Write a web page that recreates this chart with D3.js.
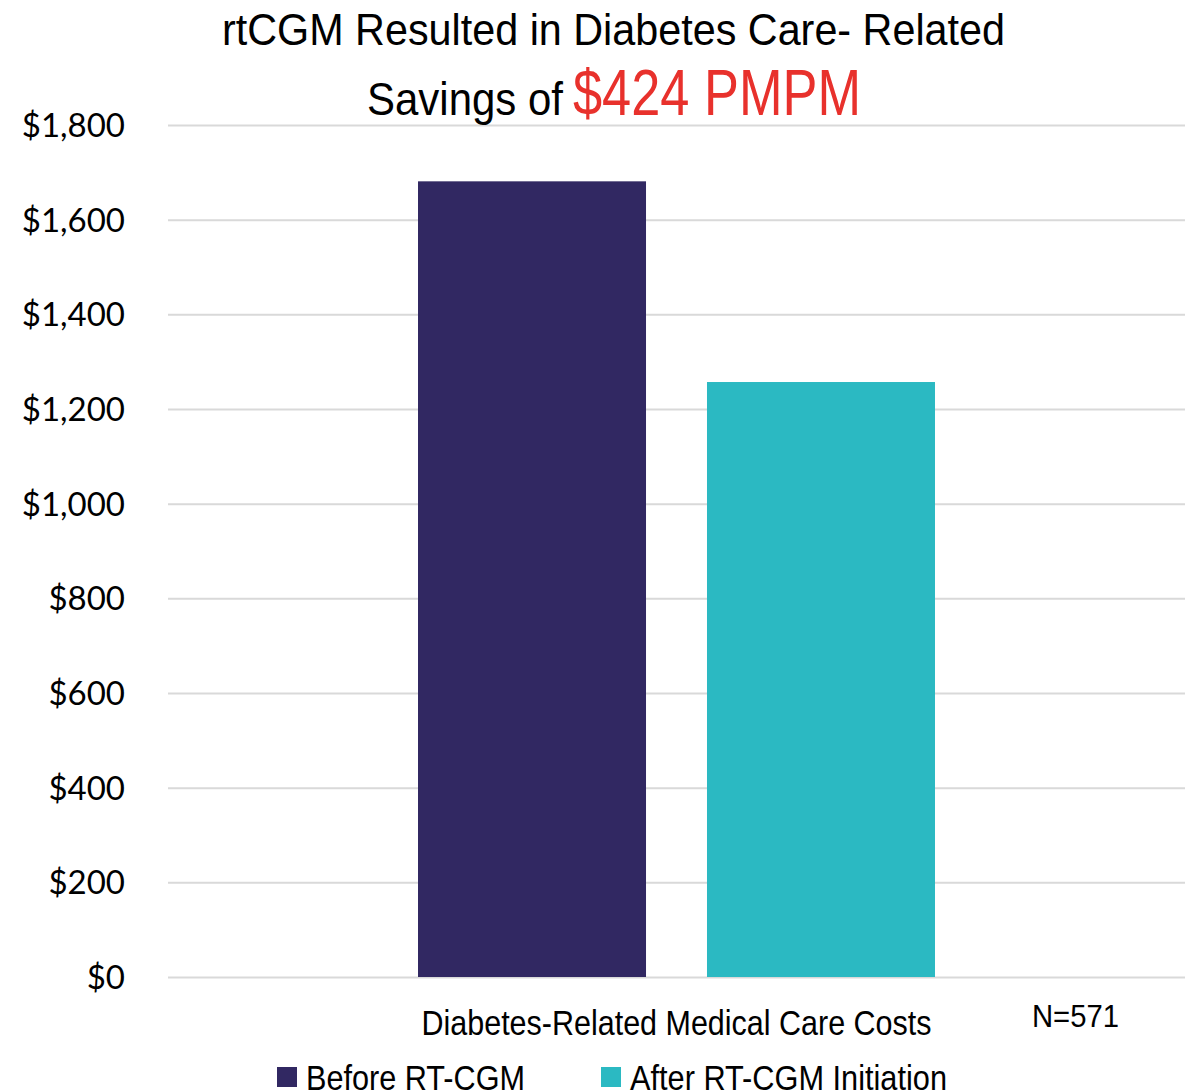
<!DOCTYPE html>
<html>
<head>
<meta charset="utf-8">
<script src="https://cdn.jsdelivr.net/npm/d3@7"></script>
<style>
  html, body { margin: 0; padding: 0; background: #fff; }
  svg { display: block; }
  .narrow { font-family: "Liberation Sans", Arial, sans-serif; }
  .tick text { font-family: Lato, "Open Sans", sans-serif; }
</style>
</head>
<body>
<svg id="chart" width="1196" height="1090"></svg>
<script>
// Diabetes-related medical care costs, per member per month
const categories = ["Diabetes-Related Medical Care Costs"];
const seriesNames = ["Before RT-CGM", "After RT-CGM Initiation"];
const seriesColors = ["#312862", "#2bb9c2"];
const costValues = [1681, 1257];
const yTicks = [0, 200, 400, 600, 800, 1000, 1200, 1400, 1600, 1800];
const titleLine1 = "rtCGM Resulted in Diabetes Care- Related";
const titleLine2 = "Savings of";
const titleHighlight = "$424 PMPM";
const sampleNote = "N=571";

const svg = d3.select("#chart");
const plot = { left: 168, right: 1185, top: 125, bottom: 977 };

const y = d3.scaleLinear().domain([0, 1800]).range([plot.bottom, plot.top]);
const x0 = d3.scaleBand().domain(categories).range([plot.left, plot.right])
  .paddingInner(0).paddingOuter(0.4836);
const x1 = d3.scaleBand().domain(seriesNames).range([0, x0.bandwidth()])
  .paddingInner(0.211).paddingOuter(0);

// condensed-looking text: regular sans squeezed to a fixed run length
function narrowText(parent, str, x, yPos, size, length, anchor, color) {
  return parent.append("text").attr("class", "narrow")
    .attr("x", x).attr("y", yPos)
    .attr("text-anchor", anchor || "start")
    .attr("font-size", size)
    .attr("fill", color || "#000")
    .attr("textLength", length)
    .attr("lengthAdjust", "spacingAndGlyphs")
    .text(str);
}

// gridlines + tick labels
const yAxis = d3.axisLeft(y).tickValues(yTicks)
  .tickSize(-(plot.right - plot.left)).tickPadding(43)
  .tickFormat(d => "$" + d3.format(",")(d));
const ga = svg.append("g").attr("transform", `translate(${plot.left},0)`).call(yAxis);
ga.select(".domain").remove();
ga.selectAll(".tick line").attr("stroke", "#d9d9d9").attr("stroke-width", 2);
ga.selectAll(".tick text").attr("fill", "#000").attr("font-size", 33).attr("dy", "0.35em");

// bars
const g = svg.append("g");
categories.forEach(cat => {
  g.selectAll("rect.bar").data(seriesNames).enter().append("rect")
    .attr("class", "bar")
    .attr("x", s => x0(cat) + x1(s))
    .attr("width", x1.bandwidth())
    .attr("y", (s, i) => y(costValues[i]))
    .attr("height", (s, i) => plot.bottom - y(costValues[i]))
    .attr("fill", (s, i) => seriesColors[i]);
});

// category label and sample size
narrowText(svg, categories[0], x0(categories[0]) + x0.bandwidth() / 2, 1035, 35, 510, "middle");
narrowText(svg, sampleNote, 1032, 1027, 32, 87, "start");

// title
narrowText(svg, titleLine1, 222, 45, 45, 783, "start");
narrowText(svg, titleLine2, 367, 115, 47, 196, "start");
narrowText(svg, titleHighlight, 573, 115, 64, 288, "start", "#e8312c");

// legend
const legendX = [277, 601];
const legendLen = [219, 317];
const lg = svg.append("g");
seriesNames.forEach((s, i) => {
  lg.append("rect").attr("x", legendX[i]).attr("y", 1067)
    .attr("width", 20).attr("height", 20).attr("fill", seriesColors[i]);
  narrowText(lg, s, legendX[i] + 29, 1090, 35, legendLen[i], "start");
});
</script>
</body>
</html>
